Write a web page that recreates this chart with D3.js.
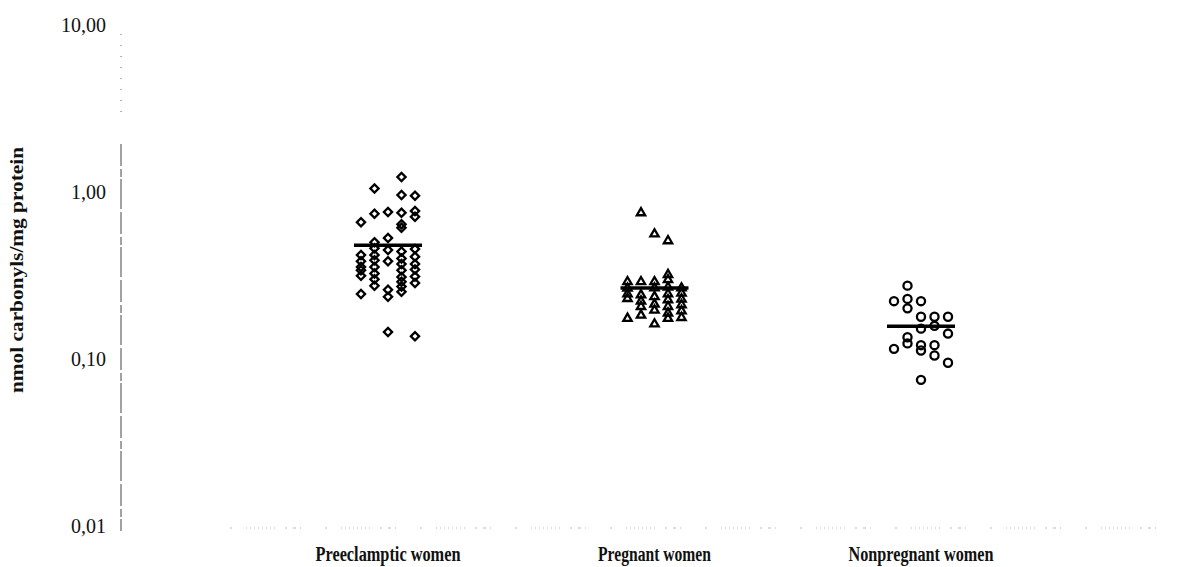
<!DOCTYPE html>
<html>
<head>
<meta charset="utf-8">
<script src="https://cdn.jsdelivr.net/npm/d3@7"></script>
<style>
    body { margin: 0; background: #fff; }
    svg { display: block; }
</style>
</head>
<body>
<div id="plot"></div>
<script>
// Chart data
const categories = ["Preeclamptic women", "Pregnant women", "Nonpregnant women"];
const categoryWidths = [145, 113, 145];
const yTicks = [10, 1, 0.1, 0.01];
const yTickLabels = ["10,00", "1,00", "0,10", "0,01"];
const yTitle = "nmol carbonyls/mg protein";

// points as [column within the dot strip (-2..2), value]
const preeclampticPoints = [
    [1, 1.23], [-1, 1.05], [1, 0.96], [2, 0.95],
    [-1, 0.74], [0, 0.76], [1, 0.75], [2, 0.77], [2, 0.71], [-2, 0.66],
    [1, 0.64], [1, 0.61], [0, 0.53], [-1, 0.50],
    [-2, 0.42], [-2, 0.385], [-2, 0.355], [-2, 0.34], [-2, 0.315], [-2, 0.245],
    [-1, 0.46], [-1, 0.42], [-1, 0.39], [-1, 0.355], [-1, 0.325], [-1, 0.30], [-1, 0.275],
    [0, 0.45], [0, 0.385], [0, 0.26], [0, 0.236], [0, 0.145],
    [1, 0.44], [1, 0.40], [1, 0.37], [1, 0.34], [1, 0.31], [1, 0.29], [1, 0.272], [1, 0.253],
    [2, 0.455], [2, 0.41], [2, 0.37], [2, 0.343], [2, 0.312], [2, 0.285], [2, 0.137]
];
const pregnantPoints = [
    [-1, 0.75], [0, 0.56], [1, 0.51],
    [-2, 0.29], [-2, 0.265], [-2, 0.245], [-2, 0.23], [-2, 0.175],
    [-1, 0.29], [-1, 0.242], [-1, 0.222], [-1, 0.206], [-1, 0.183],
    [0, 0.29], [0, 0.266], [0, 0.236], [0, 0.213], [0, 0.196], [0, 0.162],
    [1, 0.32], [1, 0.298], [1, 0.269], [1, 0.245], [1, 0.226], [1, 0.206], [1, 0.188], [1, 0.175],
    [2, 0.266], [2, 0.248], [2, 0.228], [2, 0.211], [2, 0.194], [2, 0.177]
];
const nonpregnantPoints = [
    [-1, 0.275], [-2, 0.222], [-1, 0.229], [-1, 0.201], [0, 0.222],
    [0, 0.179], [1, 0.179], [2, 0.179], [1, 0.158], [0, 0.152],
    [2, 0.142], [-1, 0.135], [-1, 0.124], [-2, 0.115], [0, 0.121],
    [0, 0.1125], [1, 0.121], [1, 0.105], [2, 0.095], [0, 0.075]
];
const meanValues = [0.48, 0.266, 0.157];

const groups = [
    { points: preeclampticPoints, shape: "diamond" },
    { points: pregnantPoints, shape: "triangle" },
    { points: nonpregnantPoints, shape: "circle" }
];

const width = 1177, height = 567;
const svg = d3.select("#plot").append("svg")
    .attr("width", width)
    .attr("height", height);

// Scales
const x = d3.scalePoint()
    .domain(categories)
    .range([388, 921]);
const colOffset = d3.scaleLinear()
    .domain([-2, 2])
    .range([-27, 27]);
const y = d3.scaleLog()
    .domain([0.01, 10])
    .range([526, 25]);

const serif = "'Liberation Serif', 'Times New Roman', serif";

// Y axis (scanned look: dotted at top, broken dashes below)
const axisX = 121;
svg.append("line")
    .attr("x1", axisX).attr("x2", axisX)
    .attr("y1", y(10) + 9).attr("y2", y(10) + 92)
    .attr("stroke", "#666")
    .attr("stroke-width", 1)
    .attr("stroke-dasharray", "1,10");
svg.append("line")
    .attr("x1", axisX).attr("x2", axisX)
    .attr("y1", y(10) + 119).attr("y2", y(0.01) + 5)
    .attr("stroke", "#444")
    .attr("stroke-width", 1)
    .attr("stroke-dasharray", "22,3,8,2,30,3");

const yAxis = d3.axisLeft(y)
    .tickValues(yTicks)
    .tickFormat((d, i) => yTickLabels[i])
    .tickSize(0)
    .tickPadding(0);
const gy = svg.append("g")
    .attr("transform", `translate(106,0)`)
    .call(yAxis);
gy.select(".domain").remove();
gy.selectAll("text")
    .attr("font-family", serif)
    .attr("font-size", 20)
    .attr("fill", "#111");

// X axis baseline (faint and broken)
svg.append("line")
    .attr("x1", 230).attr("x2", width)
    .attr("y1", y(0.01) + 2).attr("y2", y(0.01) + 2)
    .attr("stroke", "#bbb")
    .attr("stroke-width", 1)
    .attr("stroke-dasharray", "2,14,1,3,1,3,1,3,1,3,1,3,1,3,1,3,1,10,2,6,3,4,1,24");

// Category labels
svg.append("g")
    .selectAll("text")
    .data(categories)
    .join("text")
    .attr("x", (d, i) => x(d) - categoryWidths[i] / 2)
    .attr("y", 561)
    .attr("textLength", (d, i) => categoryWidths[i])
    .attr("lengthAdjust", "spacingAndGlyphs")
    .attr("font-family", serif)
    .attr("font-weight", "bold")
    .attr("font-size", 20)
    .attr("fill", "#111")
    .text(d => d);

// Y axis title
svg.append("text")
    .attr("transform", `translate(23,393) rotate(-90)`)
    .attr("textLength", 246)
    .attr("lengthAdjust", "spacingAndGlyphs")
    .attr("font-family", serif)
    .attr("font-weight", "bold")
    .attr("font-size", 19)
    .attr("fill", "#111")
    .text(yTitle);

// Markers
const shapes = {
    diamond: d3.symbol(d3.symbolSquare, 34),
    triangle: d3.symbol(d3.symbolTriangle, 30),
    circle: d3.symbol(d3.symbolCircle, 52)
};

groups.forEach((g, gi) => {
    const cx = x(categories[gi]);
    svg.append("g")
        .selectAll("path")
        .data(g.points)
        .join("path")
        .attr("d", shapes[g.shape])
        .attr("transform", d => {
            const px = cx + colOffset(d[0]);
            const py = y(d[1]);
            return g.shape === "diamond"
                ? `translate(${px},${py}) rotate(45)`
                : `translate(${px},${py})`;
        })
        .attr("fill", "none")
        .attr("stroke", "#000")
        .attr("stroke-width", 2.3);
});

// Mean lines
svg.append("g")
    .selectAll("line")
    .data(meanValues)
    .join("line")
    .attr("x1", (d, i) => x(categories[i]) - 34)
    .attr("x2", (d, i) => x(categories[i]) + 34)
    .attr("y1", d => y(d))
    .attr("y2", d => y(d))
    .attr("stroke", "#000")
    .attr("stroke-width", 3.5);
</script>
</body>
</html>
